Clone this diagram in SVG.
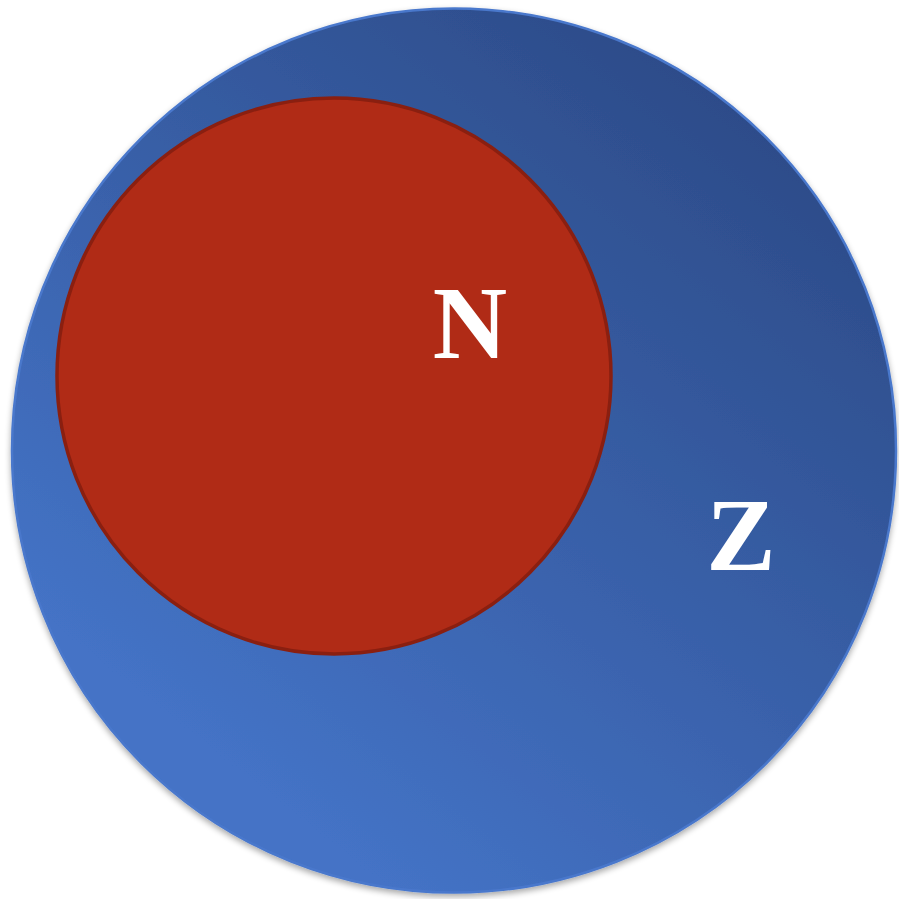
<svg xmlns="http://www.w3.org/2000/svg" width="899" height="899" viewBox="0 0 899 899">
<defs>
<linearGradient id="zgrad" gradientUnits="userSpaceOnUse" x1="250" y1="780" x2="800" y2="80">
<stop offset="0" stop-color="#4473C6"/>
<stop offset="1" stop-color="#2B4985"/>
</linearGradient>
<filter id="shadow" x="-10%" y="-10%" width="120%" height="120%">
<feGaussianBlur in="SourceAlpha" stdDeviation="3"/>
<feOffset dx="0" dy="3" result="b"/>
<feComponentTransfer><feFuncA type="linear" slope="0.35"/></feComponentTransfer>
<feMerge><feMergeNode/><feMergeNode in="SourceGraphic"/></feMerge>
</filter>
<style>
.lbl{font-family:'Liberation Serif','Times New Roman',Times,serif;font-weight:700;fill:#ffffff;text-anchor:middle}
</style>
</defs>
<rect width="899" height="899" fill="#ffffff"/>
<g id="Z">
<circle cx="454" cy="450.5" r="442" fill="url(#zgrad)" stroke="#4A78CC" stroke-width="2.5" filter="url(#shadow)"/>
<text class="lbl" x="741" y="570" font-size="104" font-family="Liberation Serif">Z</text>
</g>
<g id="N">
<ellipse cx="334" cy="376" rx="277" ry="278" fill="#B02B16" stroke="#8A1F10" stroke-width="3.5"/>
<text class="lbl" x="470" y="358" font-size="103" font-family="Liberation Serif">N</text>
</g>
<g id="connectors"/>
</svg>
